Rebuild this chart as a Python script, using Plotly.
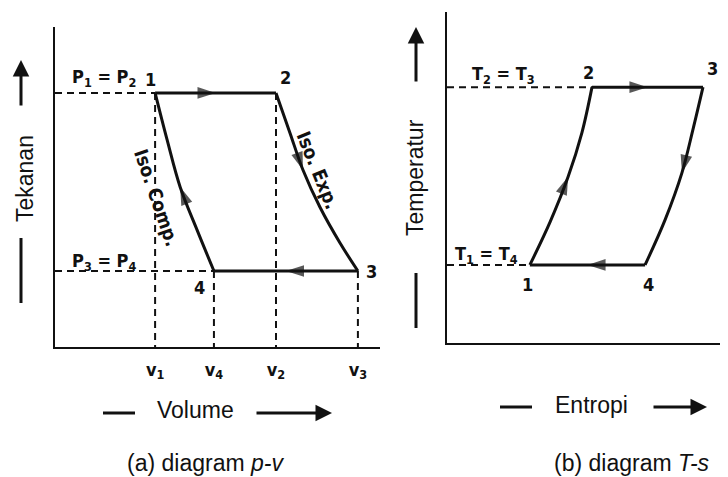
import plotly.graph_objects as go

# page body has an 8px margin; figure fills the rest of the 728x477 window
OFF = 8
W, H = 728 - OFF, 477 - OFF

# ---------------- p-v diagram (arbitrary units) ----------------
pv_state = ["1", "2", "3", "4"]
pv_v = [3.08, 6.80, 9.32, 4.89]
pv_p = [7.94, 7.94, 2.375, 2.375]
comp_v = [4.89, 4.37, 3.85, 3.45, 3.08]          # isothermal compression 4 -> 1
comp_p = [2.375, 3.66, 5.00, 6.47, 7.94]
exp_v = [6.80, 7.23, 7.63, 8.15, 8.77, 9.32]     # isothermal expansion 2 -> 3
exp_p = [7.94, 6.69, 5.53, 4.375, 3.25, 2.375]
v_ticks = [3.08, 4.89, 6.80, 9.32]
v_ticktext = ["v<sub>1</sub>", "v<sub>4</sub>", "v<sub>2</sub>", "v<sub>3</sub>"]
p_labels = ["P<sub>1</sub> = P<sub>2</sub>", "P<sub>3</sub> = P<sub>4</sub>"]

# ---------------- T-s diagram ----------------
ts_state = ["1", "2", "3", "4"]
ts_s = [2.95, 5.16, 9.11, 7.05]
ts_T = [2.36, 7.73, 7.73, 2.36]
c12_s = [2.95, 3.67, 4.31, 4.80, 5.16]           # 1 -> 2
c12_T = [2.36, 3.66, 5.02, 6.35, 7.73]
e34_s = [9.11, 8.75, 8.36, 7.76, 7.05]           # 3 -> 4
e34_T = [7.73, 6.44, 5.14, 3.72, 2.36]
t_labels = ["T<sub>2</sub> = T<sub>3</sub>", "T<sub>1</sub> = T<sub>4</sub>"]

BLACK = "#111111"
LW = 3
DASH = dict(color=BLACK, width=2, dash="7px,5px")
label_font = dict(family="Liberation Sans Narrow, DejaVu Sans Condensed, DejaVu Sans", size=18, color=BLACK)
proc_font = dict(label_font, size=19)
title_font = dict(family="Liberation Sans, Arial, sans-serif", size=23, color=BLACK)

fig = go.Figure()

def line(x, y, xa, ya, shape="linear", style=None):
    fig.add_trace(go.Scatter(x=x, y=y, xaxis=xa, yaxis=ya, mode="lines",
                             line=style or dict(color=BLACK, width=LW, shape=shape, smoothing=1.0),
                             hoverinfo="skip", showlegend=False))

def arrow(xp, yp, xa, ya):
    # xp/yp: [previous point, arrow point]
    fig.add_trace(go.Scatter(x=xp, y=yp, xaxis=xa, yaxis=ya, mode="markers",
                             marker=dict(symbol="arrow", size=[0, 19], color=BLACK,
                                         angleref="previous", line=dict(width=0)),
                             hoverinfo="skip", showlegend=False, cliponaxis=False))

# ---- p-v dashed guides ----
line([0, pv_v[0]], [pv_p[0], pv_p[0]], "x", "y", style=DASH)
line([0, pv_v[3]], [pv_p[3], pv_p[3]], "x", "y", style=DASH)
for i in range(4):
    line([pv_v[i], pv_v[i]], [pv_p[i], 0], "x", "y", style=DASH)

# ---- p-v cycle ----
line([pv_v[0], pv_v[1]], [pv_p[0], pv_p[1]], "x", "y")
line(exp_v, exp_p, "x", "y", shape="spline")
line([pv_v[2], pv_v[3]], [pv_p[2], pv_p[3]], "x", "y")
line(comp_v, comp_p, "x", "y", shape="spline")
arrow([pv_v[0], (pv_v[0] + pv_v[1]) / 2], [pv_p[0], pv_p[1]], "x", "y")
arrow([pv_v[2], (pv_v[2] + pv_v[3]) / 2], [pv_p[2], pv_p[3]], "x", "y")
arrow(exp_v[1:3], exp_p[1:3], "x", "y")
arrow(comp_v[1:3], comp_p[1:3], "x", "y")

# ---- T-s dashed guides ----
line([0, ts_s[1]], [ts_T[1], ts_T[1]], "x2", "y2", style=DASH)
line([0, ts_s[0]], [ts_T[0], ts_T[0]], "x2", "y2", style=DASH)

# ---- T-s cycle ----
line(c12_s, c12_T, "x2", "y2", shape="spline")
line([ts_s[1], ts_s[2]], [ts_T[1], ts_T[2]], "x2", "y2")
line(e34_s, e34_T, "x2", "y2", shape="spline")
line([ts_s[3], ts_s[0]], [ts_T[3], ts_T[0]], "x2", "y2")
arrow(c12_s[1:3], c12_T[1:3], "x2", "y2")
arrow([ts_s[1], (ts_s[1] + ts_s[2]) / 2], [ts_T[1], ts_T[2]], "x2", "y2")
arrow(e34_s[1:3], e34_T[1:3], "x2", "y2")
arrow([ts_s[3], (ts_s[3] + ts_s[0]) / 2], [ts_T[3], ts_T[0]], "x2", "y2")

ann = []
C = dict(xanchor="center", yanchor="middle", showarrow=False)
# state numbers (offsets in pixels)
pv_off = [(-5, 13), (9, 15), (14, 0), (-14, -16)]
for lab, xv, yv, (dx, dy) in zip(pv_state, pv_v, pv_p, pv_off):
    ann.append(dict(C, x=xv, y=yv, xref="x", yref="y", text=f"<b>{lab}</b>",
                    xshift=dx, yshift=dy, font=label_font))
ts_off = [(-2, -20), (-4, 15), (10, 19), (3, -20)]
for lab, xv, yv, (dx, dy) in zip(ts_state, ts_s, ts_T, ts_off):
    ann.append(dict(C, x=xv, y=yv, xref="x2", yref="y2", text=f"<b>{lab}</b>",
                    xshift=dx, yshift=dy, font=label_font))

ann.append(dict(C, x=1.5, y=pv_p[0], xref="x", yref="y", text=f"<b>{p_labels[0]}</b>",
                yshift=15, font=label_font))
ann.append(dict(C, x=1.5, y=pv_p[3], xref="x", yref="y", text=f"<b>{p_labels[1]}</b>",
                yshift=9, font=label_font))
ann.append(dict(C, x=2.0, y=ts_T[1], xref="x2", yref="y2", text=f"<b>{t_labels[0]}</b>",
                yshift=12, font=label_font))
ann.append(dict(C, x=1.39, y=ts_T[0], xref="x2", yref="y2", text=f"<b>{t_labels[1]}</b>",
                yshift=10, font=label_font))

# process labels along curves
ann.append(dict(C, x=comp_v[2], y=comp_p[2], xref="x", yref="y", text="<b>Iso. Comp.</b>",
                textangle=71, xshift=-23, yshift=-11, font=proc_font))
ann.append(dict(C, x=exp_v[2], y=exp_p[2], xref="x", yref="y", text="<b>Iso. Exp.</b>",
                textangle=68, xshift=15, yshift=0, font=proc_font))

def px(x):
    return (x - OFF) / W

def py(y):
    return 1 - (y - OFF) / H

# axis titles
ann += [
    dict(C, x=px(25), y=py(179), xref="paper", yref="paper", text="Tekanan", textangle=-90,
         font=title_font),
    dict(C, x=px(415), y=py(178), xref="paper", yref="paper", text="Temperatur", textangle=-90,
         font=title_font),
    dict(C, x=px(195), y=py(410), xref="paper", yref="paper", text="Volume", font=title_font),
    dict(C, x=px(591), y=py(405), xref="paper", yref="paper", text="Entropi", font=title_font),
    dict(C, x=px(205), y=py(463), xref="paper", yref="paper", text="(a) diagram <i>p-v</i>",
         font=title_font),
    dict(C, x=px(632), y=py(463), xref="paper", yref="paper", text="(b) diagram <i>T-s</i>",
         font=title_font),
]
# arrows next to titles
arrow_style = dict(xref="paper", yref="paper", text="", showarrow=True,
                   arrowhead=2, arrowsize=1.1, arrowwidth=3, arrowcolor=BLACK)
ann += [
    dict(arrow_style, x=px(21), y=py(60), ax=0, ay=47),
    dict(arrow_style, x=px(416), y=py(27), ax=0, ay=56),
    dict(arrow_style, x=px(332), y=py(413), ax=-77, ay=0),
    dict(arrow_style, x=px(707), y=py(407), ax=-55, ay=0),
]

shapes = [
    dict(type="line", xref="paper", yref="paper", x0=px(21), x1=px(21), y0=py(238), y1=py(303),
         line=dict(color=BLACK, width=3)),
    dict(type="line", xref="paper", yref="paper", x0=px(416), x1=px(416), y0=py(273), y1=py(328),
         line=dict(color=BLACK, width=3)),
    dict(type="line", xref="paper", yref="paper", x0=px(103), x1=px(135), y0=py(413), y1=py(413),
         line=dict(color=BLACK, width=3)),
    dict(type="line", xref="paper", yref="paper", x0=px(500), x1=px(532), y0=py(407), y1=py(407),
         line=dict(color=BLACK, width=3)),
]

axis_common = dict(showline=True, linecolor=BLACK, linewidth=2, showgrid=False, zeroline=False,
                   range=[0, 10], fixedrange=True)

fig.update_layout(
    width=W, height=H,
    margin=dict(l=0, r=0, t=0, b=0),
    paper_bgcolor="white", plot_bgcolor="white",
    showlegend=False,
    xaxis=dict(axis_common, domain=[px(55), px(380)], anchor="y", tickvals=v_ticks,
               ticktext=[f"<b>{t}</b>" for t in v_ticktext], ticks="", ticklabelstandoff=5,
               tickfont=label_font),
    yaxis=dict(axis_common, domain=[py(347), py(27)], anchor="x", showticklabels=False, ticks=""),
    xaxis2=dict(axis_common, domain=[px(447), 1.0], anchor="y2", showticklabels=False, ticks=""),
    yaxis2=dict(axis_common, domain=[py(343), py(12)], anchor="x2", showticklabels=False, ticks=""),
    annotations=ann,
    shapes=shapes,
)

fig.write_html("out.html")
